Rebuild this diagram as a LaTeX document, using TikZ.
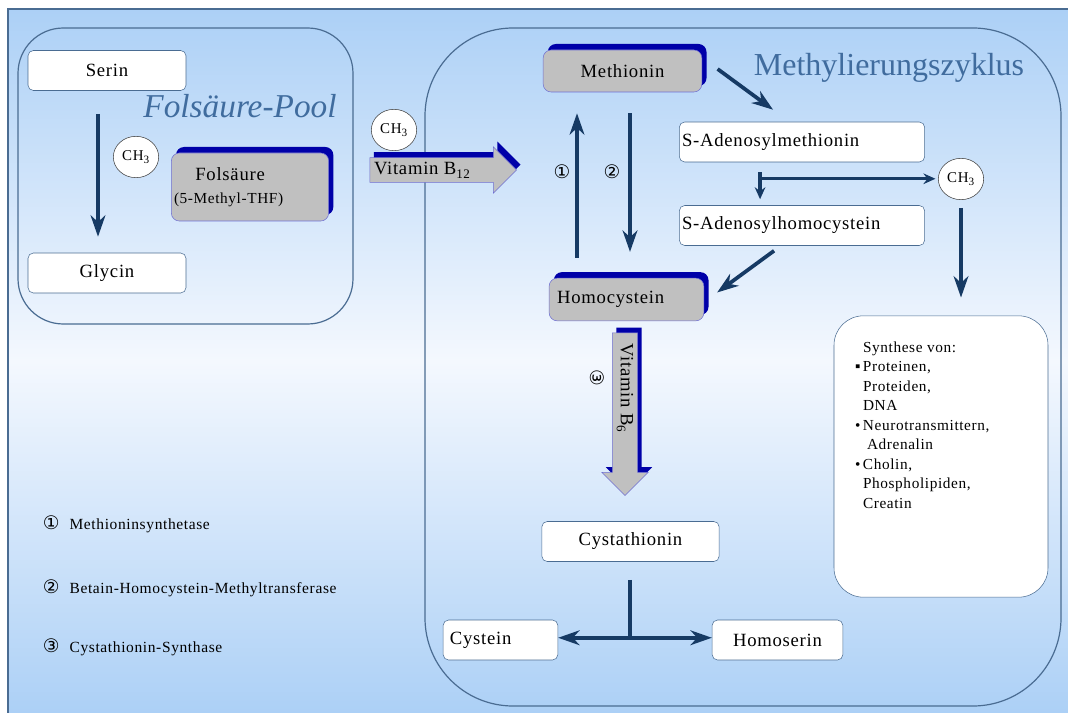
\documentclass[tikz,border=0pt]{standalone}
\usepackage{fontspec}
\setmainfont{Liberation Serif}
\newfontfamily\nodefont[Scale=1.4,LetterSpace=4]{Liberation Serif}
\newfontfamily\circfont{DejaVu Sans}
\usepackage{tikz}
\usetikzlibrary{shapes,shapes.geometric,shapes.arrows,shadows,calc,arrows.meta}

\definecolor{bgblue}{RGB}{172,208,246}
\definecolor{bgwhite}{RGB}{244,248,254}
\definecolor{frameblue}{RGB}{74,108,146}
\definecolor{navy}{RGB}{22,58,100}
\definecolor{titleblue}{RGB}{64,108,158}
\definecolor{boxgray}{RGB}{192,192,192}
\definecolor{blueside}{RGB}{0,0,168}
\definecolor{grayline}{RGB}{112,112,210}

\begin{document}
\begin{tikzpicture}
        [x=0.75pt,y=-0.75pt,
        every node/.style={inner sep=2pt,font=\nodefont\fontsize{10}{17}\selectfont},
        box/.style={shape=rectangle,rounded corners=4pt,draw=frameblue,fill=white,
          minimum height=30pt},
        lbox/.style={box,text width=#1,align=left},
        gbox/.style={box,draw=grayline,fill=boxgray,rounded corners=6pt,
          copy shadow={shadow xshift=3.5pt,shadow yshift=4.5pt,fill=blueside,draw=none}},
        varrow/.style={shape=single arrow,draw=grayline,fill=boxgray,
          single arrow head extend=8pt,single arrow head indent=0pt,inner ysep=3pt,
          copy shadow={shadow xshift=3pt,shadow yshift=4pt,fill=blueside,draw=none}},
        ch/.style={shape=ellipse,draw=black!75,fill=white,inner sep=0pt,
          minimum width=34pt,minimum height=31pt,font=\nodefont\fontsize{8}{9}\selectfont},
        flow/.style={draw=navy,line width=2.8pt,-{Stealth[length=16pt,width=11pt,inset=5pt]}},
        smallflow/.style={draw=navy,line width=2.4pt,-{Stealth[length=9pt,width=8pt,inset=3pt]}},
        num/.style={font=\circfont\fontsize{14}{16}\selectfont,inner sep=0pt},
        legend/.style={anchor=west,font=\nodefont\fontsize{8.3}{10}\selectfont}]
        %% background and frames
        \useasboundingbox (0,0) rectangle (1068,713);
        \shade[shading angle=45,top color=bgblue,bottom color=bgblue,middle color=bgwhite]
          (8,9) rectangle (1068,713);
        \draw[frameblue,line width=0.8pt] (8,713) -- (8,9) -- (1068,9);
        \draw[frameblue,line width=0.9pt,rounded corners=34pt] (18,28) rectangle (353,324);
        \draw[frameblue,line width=0.9pt,rounded corners=66pt] (425,28) rectangle (1061,706);
        \node[text=titleblue,font=\rmfamily\fontsize{25}{28}\selectfont\itshape] (pooltitle) at (240,106) {Folsäure-Pool};
        \node[text=titleblue,font=\rmfamily\fontsize{24}{28}\selectfont] (cycletitle) at (889,68) {Methylierungszyklus};
        %% Folsaeure-Pool
        \node[box,minimum width=118.5pt] (serin) at (107,70.5) {Serin};
        \node[box,minimum width=118.5pt] (glycin) at (107,273) {Glycin};
        \node[ch] (ch3a) at (136,157) {CH\textsubscript{3}};
        \node[gbox,text width=114pt,align=left,minimum height=51pt] (fols) at (250,187)
          {\hspace*{16pt}Folsäure\\{\fontsize{8.2}{10}\selectfont(5-Methyl-THF)}};
        \node[ch] (ch3b) at (394,130) {CH\textsubscript{3}};
        \node[varrow,minimum height=110pt] (vitb12) at (437,170) {Vitamin B\textsubscript{12}\hspace*{22pt}};
        %% Methylierungszyklus
        \node[gbox,minimum width=119pt,minimum height=31.5pt] (meth) at (622.5,71) {Methionin};
        \node[gbox,text width=112pt,align=left,minimum height=32pt] (homo) at (626.5,299.5) {\hspace*{4pt}Homocystein};
        \node[lbox=180pt] (sam) at (802,142) {S-Adenosylmethionin};
        \node[lbox=180pt] (sah) at (802,225.5) {S-Adenosylhomocystein};
        \node[ch] (ch3c) at (961,179) {CH\textsubscript{3}};
        \node[num] (n1) at (562,172) {①};
        \node[num] (n2) at (612,172) {②};
        \node[varrow,rotate=-90,minimum height=122pt] (vitb6) at (625,408) {Vitamin B\textsubscript{6}\hspace*{30pt}};
        \node[num,rotate=-90] (n3) at (597,378) {③};
        \node[box,minimum width=133pt] (cysta) at (630.5,541.5) {Cystathionin};
        \node[lbox=82pt] (cystein) at (500.5,640) {\hspace*{3pt}Cystein};
        \node[box,minimum width=98pt] (homoser) at (777.5,640) {Homoserin};
        \node[box,rounded corners=22pt,minimum width=160.5pt,minimum height=211pt] (syn) at (941,456.5) {};
        \node[anchor=north west,align=left,inner sep=0pt,font=\nodefont\fontsize{8.2}{14.6}\selectfont] (synlist)
          at ($(syn.north west)+(29,26)$)
          {Synthese von:\\
           \llap{▪\,}Proteinen,\\
           Proteiden,\\
           DNA\\
           \llap{•\,}Neurotransmittern,\\
           \hspace*{3pt}Adrenalin\\
           \llap{•\,}Cholin,\\
           Phospholipiden,\\
           Creatin};
        %% legend
        \node[legend] (leg1) at (40,524) {\makebox[20pt][l]{\circfont\fontsize{14}{14}\selectfont ①}Methioninsynthetase};
        \node[legend] (leg2) at (40,588) {\makebox[20pt][l]{\circfont\fontsize{14}{14}\selectfont ②}Betain-Homocystein-Methyltransferase};
        \node[legend] (leg3) at (40,647) {\makebox[20pt][l]{\circfont\fontsize{14}{14}\selectfont ③}Cystathionin-Synthase};
        %% connectors
        \draw[flow] ($(serin.south)+(-9,23)$) -- ($(glycin.north)+(-9,-16)$);
        \draw[flow] ($(homo.north)+(-49.5,-20)$) -- ($(meth.south)+(-45.5,21)$);
        \draw[flow] ($(meth.south)+(7.5,21)$) -- ($(homo.north)+(3.5,-26)$);
        \draw[flow] ($(meth.east)+(15.5,-2)$) -- ($(sam.north west)+(94,-12)$);
        \draw[flow] ($(sah.south west)+(95,5)$) -- ($(homo.east)+(13,-7)$);
        \draw[smallflow] ($(sam.south west)+(81,10)$) -- ($(sah.north west)+(81,-6)$);
        \coordinate (tee) at ($(sam.south west)+(81,16.5)$);
        \draw[smallflow,shorten >=2pt] (tee) -- (tee -| ch3c.west);
        \draw[flow] ($(ch3c.south)+(0,8)$) -- ($(syn.north)+(20,-18)$);
        \coordinate (split) at ($(cysta.south)+(-0.5,76)$);
        \draw[navy,line width=2.8pt] ($(cysta.south)+(-0.5,18)$) -- (split);
        \path
        \foreach \endNode/\side in {cystein/east,homoser/west}
        {
          (split) edge[flow] (split -| \endNode.\side)
        };
\end{tikzpicture}
\end{document}
